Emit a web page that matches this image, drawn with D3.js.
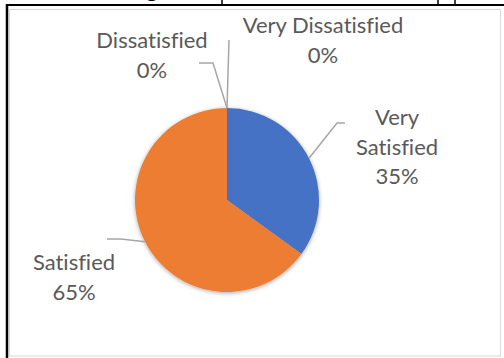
<!DOCTYPE html>
<html>
<head>
<meta charset="utf-8">
<script src="https://cdn.jsdelivr.net/npm/d3@7"></script>
<style>
  html, body { margin: 0; padding: 0; background: #fff; }
  svg { display: block; }
  text { font-variant-ligatures: none; }
</style>
</head>
<body>
<svg id="chart" width="504" height="358"></svg>
<script>
// Survey responses
const categories = ["Very Satisfied", "Satisfied", "Dissatisfied", "Very Dissatisfied"];
const shares = [35, 65, 0, 0];
const sliceColors = ["#4472C4", "#ED7D31", "#A5A5A5", "#FFC000"];

// Label lines (one array per label) and where each label block sits
const labelLines = [["Very", "Satisfied", "35%"], ["Satisfied", "65%"], ["Dissatisfied", "0%"], ["Very Dissatisfied", "0%"]];
const labelAnchor = [[397, 125], [74, 270], [152, 48], [323, 33]];
// Leader line bends (label end, elbow) for each slice
const leaderEnds = [[[345, 123], [337, 123]], [[107, 239], [121, 239]], [[199, 63], [213, 63]], [[229, 40], [229, 40]]];

const svg = d3.select("#chart");
const W = 504, H = 358;

const defs = svg.append("defs");
const glow = defs.append("filter").attr("id", "pieShadow")
  .attr("x", "-20%").attr("y", "-20%").attr("width", "140%").attr("height", "140%");
glow.append("feDropShadow").attr("dx", 0).attr("dy", 1).attr("stdDeviation", 2.2)
  .attr("flood-color", "#000").attr("flood-opacity", 0.35);

// Chart area border
svg.append("rect").attr("x", 9.5).attr("y", 9.5).attr("width", 491).attr("height", 346.5)
  .attr("fill", "#fff").attr("stroke", "#d9d9d9").attr("stroke-width", 1);

// Table cell borders above the chart
svg.append("line").attr("x1", 6).attr("x2", W).attr("y1", 5).attr("y2", 5)
  .attr("stroke", "#000").attr("stroke-width", 2);
svg.append("line").attr("x1", 7).attr("x2", 7).attr("y1", 4).attr("y2", H)
  .attr("stroke", "#000").attr("stroke-width", 2.5);
[222, 438, 455].forEach(x => {
  svg.append("line").attr("x1", x).attr("x2", x).attr("y1", 0).attr("y2", 5)
    .attr("stroke", "#000").attr("stroke-width", 1.5);
});
svg.append("text").attr("x", 146).attr("y", -3)
  .attr("font-family", "Lato, 'Open Sans', sans-serif").attr("font-size", 22)
  .attr("fill", "#000").text("g");

// Pie
const cx = 227, cy = 200, R = 92;
const pie = d3.pie().sort(null).value(d => d)(shares);
const arc = d3.arc().innerRadius(0).outerRadius(R);
const g = svg.append("g").attr("transform", `translate(${cx},${cy})`);

g.append("g").attr("filter", "url(#pieShadow)")
  .selectAll("path").data(pie).join("path")
  .attr("d", arc)
  .attr("fill", (d, i) => sliceColors[i]);

// Leader lines from slice edge to labels
pie.forEach((d, i) => {
  const mid = (d.startAngle + d.endAngle) / 2;
  const px = cx + R * Math.sin(mid), py = cy - R * Math.cos(mid);
  const [a, b] = leaderEnds[i];
  svg.append("polyline")
    .attr("points", [[a[0], a[1]], [b[0], b[1]], [px, py]].map(p => p.join(",")).join(" "))
    .attr("fill", "none").attr("stroke", "#A6A6A6").attr("stroke-width", 1.5);
});

// Data labels
const lineH = 29.5;
labelLines.forEach((lines, i) => {
  const [x, y] = labelAnchor[i];
  const t = svg.append("text")
    .attr("font-family", "Lato, 'Open Sans', sans-serif")
    .attr("font-size", 22)
    .attr("fill", "#595959")
    .attr("text-anchor", "middle");
  lines.forEach((s, k) => {
    t.append("tspan").attr("x", x).attr("y", y + k * lineH).text(s);
  });
});
</script>
</body>
</html>
